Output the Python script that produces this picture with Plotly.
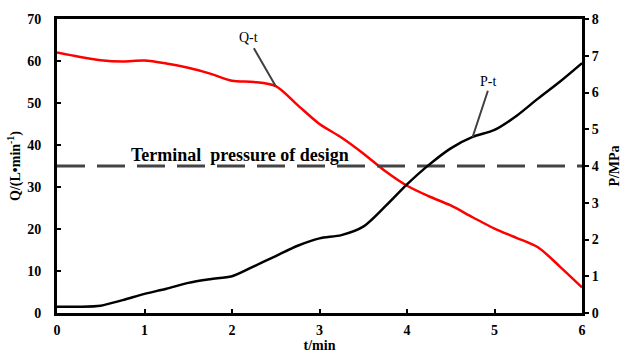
import plotly.graph_objects as go

# time, min
t = [0, 0.25, 0.5, 0.75, 1.0, 1.25, 1.5, 1.75, 2.0, 2.25, 2.5, 2.75, 3.0,
     3.25, 3.5, 3.75, 4.0, 4.25, 4.5, 4.75, 5.0, 5.25, 5.5, 5.75, 6.0]
# flow rate Q, L/min
q = [62.0, 61.0, 60.2, 59.9, 60.1, 59.4, 58.4, 57.0, 55.3, 55.0, 54.0, 49.5, 45.0,
     41.8, 38.0, 33.8, 30.3, 27.8, 25.6, 22.8, 20.1, 17.9, 15.6, 11.0, 6.1]
# pressure P, MPa
p = [0.17, 0.17, 0.20, 0.35, 0.52, 0.66, 0.82, 0.92, 1.00, 1.27, 1.55, 1.83, 2.03,
     2.12, 2.35, 2.90, 3.50, 4.03, 4.48, 4.79, 4.98, 5.36, 5.84, 6.30, 6.80]
design_pressure = 4.0
t_span = [0, 6]

FONT = "Liberation Serif"

fig = go.Figure()
fig.add_trace(go.Scatter(x=t_span, y=[design_pressure] * 2, yaxis="y2", mode="lines",
                         line=dict(color="#444444", width=3, dash="28px,12px"),
                         showlegend=False))
fig.add_trace(go.Scatter(x=t, y=q, mode="lines", line=dict(color="#ff0000", width=2.5,
                         shape="spline", smoothing=0.8), showlegend=False))
fig.add_trace(go.Scatter(x=t, y=p, yaxis="y2", mode="lines",
                         line=dict(color="#000000", width=2.5, shape="spline", smoothing=0.8),
                         showlegend=False))

# labels with leader lines
fig.add_annotation(x=2.5, y=54.0, ax=2.24, ay=63.4, xref="x", yref="y", axref="x", ayref="y",
                   text="", showarrow=True, arrowhead=0, arrowwidth=2, arrowcolor="#404040")
fig.add_annotation(x=2.19, y=65.5, text="Q-t", showarrow=False,
                   font=dict(family=FONT, size=14, color="#000"))
fig.add_annotation(x=4.75, y=4.79, ax=4.93, ay=6.09, xref="x", yref="y2", axref="x", ayref="y2",
                   text="", showarrow=True, arrowhead=0, arrowwidth=2, arrowcolor="#404040")
fig.add_annotation(x=4.93, y=6.3, yref="y2", text="P-t", showarrow=False,
                   font=dict(family=FONT, size=14, color="#000"))
fig.add_annotation(x=2.086, y=4.3, yref="y2", text="<b>Terminal  pressure of design</b>",
                   showarrow=False, font=dict(family=FONT, size=18, color="#000"))

axis_font = dict(family=FONT, size=14, color="#000", weight="bold")
title_font = dict(family=FONT, size=14, color="#000", weight="bold")

fig.update_layout(
    width=622, height=353,
    margin=dict(l=57, r=40, t=19, b=40, autoexpand=False),
    paper_bgcolor="white", plot_bgcolor="white",
    font=dict(family=FONT),
    xaxis=dict(range=[0, 6], tickvals=[0, 1, 2, 3, 4, 5, 6], ticks="inside", ticklen=4,
               tickwidth=2, tickcolor="#000", showline=True, linecolor="#000", linewidth=3,
               mirror=True, showgrid=False, zeroline=False, tickfont=axis_font,
               automargin=False, ticklabelstandoff=2,
               title=dict(text="t/min", font=title_font, standoff=0)),
    yaxis=dict(range=[0, 70], tickvals=list(range(0, 71, 10)), ticks="inside", ticklen=4,
               tickwidth=2, tickcolor="#000", showline=True, linecolor="#000", linewidth=3,
               showgrid=False, zeroline=False, tickfont=axis_font, automargin=False,
               ticklabelstandoff=10,
               title=dict(text="Q/(L•min<sup>-1</sup>)", font=title_font, standoff=4)),
    yaxis2=dict(range=[0, 8], tickvals=list(range(0, 9)), overlaying="y", side="right",
                ticks="outside", ticklen=4, tickwidth=2, tickcolor="#000", showline=True,
                linecolor="#000", linewidth=3, showgrid=False, zeroline=False,
                tickfont=axis_font, automargin=False,
                title=dict(text="P/MPa", font=title_font, standoff=16)),
)

fig.write_html("out.html")
